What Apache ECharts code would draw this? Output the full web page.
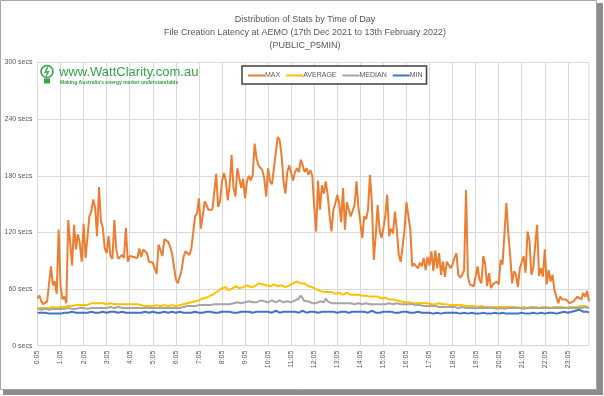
<!DOCTYPE html>
<html>
<head>
<meta charset="utf-8">
<script src="https://cdn.jsdelivr.net/npm/echarts@6/dist/echarts.min.js"></script>
<style>
html, body { margin: 0; padding: 0; background: #fff; }
#main { width: 604px; height: 396px; }
</style>
</head>
<body>
<div id="main"></div>
<script>
// 5 minute intervals, 0:05 .. 23:55 (288 points)
var times = []
for (var h = 0; h < 24; h++) {
  for (var m = 5; m < 60; m += 5) times.push(h + ':' + (m < 10 ? '0' + m : m))
  times.push((h + 1) + ':00')
}
times = times.slice(0, 288)

var seriesNames = ['MAX', 'AVERAGE', 'MEDIAN', 'MIN']

// secs, one row per hour
var maxSecs = [
  50, 53, 47, 44, 44, 47, 47, 84, 64, 68, 55, 123,
  63, 49, 52, 45, 133, 133, 85, 128, 102, 118, 109, 89,
  129, 93, 91, 137, 142, 155, 146, 116, 168, 132, 125, 103,
  98, 116, 95, 92, 133, 102, 92, 90, 96, 93, 125, 89,
  95, 93, 94, 95, 93, 103, 94, 102, 102, 98, 89, 88,
  88, 87, 76, 107, 105, 95, 113, 114, 110, 105, 98, 97,
  70, 66, 73, 80, 94, 100, 102, 96, 102, 103, 137, 140,
  156, 124, 138, 153, 151, 144, 143, 144, 144, 182, 147, 153,
  174, 183, 175, 154, 170, 202, 167, 158, 188, 190, 167, 177,
  156, 174, 180, 175, 181, 214, 198, 191, 191, 186, 177, 158,
  188, 174, 171, 172, 204, 221, 218, 202, 175, 161, 184, 191,
  190, 175, 184, 188, 184, 197, 191, 184, 188, 181, 186, 180,
  147, 121, 175, 144, 170, 161, 174, 160, 138, 121, 144, 151,
  160, 151, 131, 167, 123, 152, 144, 137, 135, 149, 174, 147,
  145, 114, 137, 134, 144, 181, 152, 91, 116, 149, 123, 114,
  124, 138, 160, 116, 124, 119, 142, 123, 96, 89, 105, 123,
  152, 150, 123, 84, 87, 87, 82, 88, 84, 93, 80, 94,
  85, 100, 79, 101, 82, 98, 75, 89, 73, 89, 87, 82,
  86, 93, 98, 75, 72, 75, 80, 165, 73, 65, 67, 63,
  65, 84, 70, 66, 95, 86, 63, 77, 61, 65, 65, 68,
  65, 91, 86, 119, 151, 119, 95, 66, 79, 75, 62, 82,
  84, 95, 77, 121, 112, 75, 82, 107, 128, 74, 82, 73,
  102, 65, 80, 68, 75, 59, 52, 45, 52, 49, 50, 49,
  47, 45, 46, 47, 49, 52, 52, 49, 56, 52, 58, 47
]

var avgSecs = [
  40, 40, 40, 41, 40, 40, 40, 40, 41, 40, 40, 40,
  41, 40, 41, 42, 42, 43, 42, 42, 43, 42, 43, 43,
  43, 44, 43, 44, 45, 44, 45, 44, 45, 44, 45, 45,
  44, 44, 45, 44, 44, 45, 44, 44, 44, 43, 44, 43,
  44, 44, 44, 45, 44, 44, 43, 42, 42, 43, 42, 42,
  42, 42, 43, 42, 42, 42, 43, 42, 42, 42, 43, 42,
  42, 42, 43, 43, 44, 44, 45, 45, 46, 46, 47, 47,
  48, 49, 50, 50, 51, 52, 53, 54, 55, 56, 58, 60,
  61, 63, 62, 59, 58, 60, 62, 63, 62, 61, 63, 62,
  63, 64, 63, 62, 64, 63, 65, 66, 67, 65, 64, 64,
  64, 63, 64, 65, 64, 63, 63, 64, 63, 62, 63, 64,
  65, 66, 67, 68, 67, 66, 65, 66, 64, 63, 62, 62,
  61, 60, 59, 58, 57, 57, 56, 57, 56, 57, 56, 55,
  55, 56, 55, 54, 55, 56, 55, 54, 55, 54, 53, 54,
  54, 53, 54, 53, 53, 52, 53, 52, 51, 52, 51, 50,
  50, 51, 50, 49, 50, 49, 48, 48, 47, 47, 46, 46,
  46, 46, 45, 45, 46, 45, 45, 45, 46, 45, 44, 45,
  45, 44, 45, 44, 44, 45, 44, 44, 43, 44, 43, 43,
  44, 43, 43, 43, 42, 43, 42, 42, 42, 42, 41, 42,
  42, 41, 41, 42, 41, 41, 41, 41, 42, 41, 41, 41,
  41, 41, 40, 41, 41, 41, 40, 41, 41, 41, 41, 40,
  41, 41, 41, 40, 41, 41, 41, 41, 41, 40, 41, 41,
  41, 41, 41, 40, 41, 41, 41, 41, 41, 41, 41, 40,
  41, 41, 41, 41, 42, 41, 41, 42, 41, 42, 41, 40
]

var medianSecs = [
  39, 39, 38, 39, 39, 39, 38, 39, 39, 39, 39, 38,
  39, 39, 39, 39, 40, 39, 39, 40, 39, 39, 40, 39,
  40, 40, 39, 40, 40, 41, 40, 40, 40, 41, 40, 40,
  40, 40, 41, 40, 40, 40, 41, 40, 40, 40, 40, 40,
  40, 40, 40, 41, 40, 40, 40, 40, 40, 40, 40, 40,
  40, 40, 40, 41, 40, 40, 40, 40, 40, 41, 40, 40,
  40, 40, 40, 41, 41, 41, 42, 42, 42, 42, 42, 43,
  43, 43, 43, 44, 43, 43, 43, 44, 44, 43, 44, 44,
  44, 45, 44, 45, 44, 46, 45, 45, 46, 44, 45, 46,
  46, 45, 47, 46, 46, 47, 46, 47, 48, 46, 47, 47,
  46, 47, 48, 47, 46, 47, 48, 47, 46, 47, 47, 46,
  46, 47, 48, 49, 50, 53, 50, 47, 46, 47, 46, 45,
  45, 45, 46, 47, 46, 46, 50, 47, 45, 45, 46, 45,
  45, 45, 46, 45, 45, 45, 44, 45, 45, 44, 45, 45,
  45, 44, 45, 45, 44, 44, 45, 44, 44, 44, 45, 44,
  44, 44, 44, 45, 44, 44, 44, 45, 44, 44, 44, 44,
  44, 44, 43, 44, 43, 43, 43, 43, 43, 42, 43, 42,
  42, 42, 42, 42, 42, 41, 42, 41, 41, 41, 41, 41,
  41, 41, 41, 40, 40, 41, 40, 40, 40, 40, 40, 40,
  40, 40, 39, 40, 40, 40, 39, 40, 40, 40, 40, 39,
  40, 40, 40, 39, 40, 40, 40, 40, 39, 40, 40, 40,
  40, 39, 40, 40, 40, 40, 39, 40, 40, 40, 39, 40,
  40, 40, 40, 40, 39, 40, 40, 40, 40, 40, 40, 40,
  40, 40, 41, 40, 40, 40, 41, 40, 40, 41, 40, 40
]

var minSecs = [
  35, 34, 35, 34, 35, 35, 34, 35, 34, 35, 34, 35,
  34, 35, 35, 34, 35, 35, 36, 35, 35, 34, 35, 35,
  35, 36, 35, 35, 36, 35, 35, 36, 35, 35, 36, 35,
  35, 35, 36, 35, 36, 35, 35, 35, 36, 35, 35, 36,
  35, 36, 35, 35, 35, 36, 35, 35, 36, 35, 35, 35,
  36, 35, 35, 36, 35, 35, 36, 35, 35, 35, 36, 35,
  35, 35, 36, 35, 35, 36, 35, 36, 35, 35, 36, 35,
  35, 36, 35, 35, 36, 35, 36, 35, 35, 36, 35, 36,
  36, 35, 36, 35, 36, 36, 35, 36, 35, 36, 36, 35,
  36, 35, 36, 37, 35, 36, 36, 35, 36, 37, 36, 35,
  36, 36, 35, 36, 37, 36, 35, 36, 36, 35, 36, 37,
  36, 35, 36, 36, 35, 36, 37, 36, 35, 36, 36, 35,
  36, 36, 35, 36, 36, 35, 36, 37, 36, 35, 36, 36,
  35, 36, 36, 35, 36, 36, 35, 36, 36, 35, 36, 36,
  36, 35, 36, 36, 35, 36, 37, 36, 35, 36, 35, 36,
  36, 35, 36, 35, 36, 36, 35, 36, 35, 36, 36, 37,
  36, 35, 35, 36, 35, 35, 36, 35, 35, 36, 35, 35,
  35, 35, 34, 35, 35, 35, 34, 35, 35, 34, 35, 35,
  35, 34, 35, 35, 34, 35, 35, 35, 34, 35, 35, 34,
  34, 35, 34, 34, 35, 34, 34, 35, 34, 34, 35, 34,
  34, 34, 35, 34, 34, 35, 34, 34, 34, 35, 34, 34,
  35, 34, 34, 35, 34, 34, 35, 34, 34, 35, 35, 34,
  34, 35, 35, 34, 35, 35, 34, 35, 35, 35, 36, 35,
  35, 35, 36, 36, 37, 37, 38, 37, 36, 38, 36, 35
]

var colors = ['#ED7D31', '#FFC000', '#A5A5A5', '#4472C4']
var seriesData = [maxSecs, avgSecs, medianSecs, minSecs]
var font = 'Liberation Sans'
var green = '#35a347'

var chart = echarts.init(document.getElementById('main'))
var option = {
  animation: false,
  backgroundColor: '#fff',
  color: colors,
  title: {
    text: 'Distribution of Stats by Time of Day\nFile Creation Latency at AEMO (17th Dec 2021 to 13th February 2022)\n(PUBLIC_P5MIN)',
    left: 300,
    textAlign: 'center',
    top: 8,
    textStyle: { fontFamily: font, fontSize: 9, fontWeight: 'normal', color: '#595959', lineHeight: 13 }
  },
  legend: {
    data: seriesNames,
    left: 242,
    top: 66,
    padding: [6, 4, 5, 6],
    itemGap: 6,
    itemWidth: 17,
    itemHeight: 2,
    icon: 'rect',
    borderColor: '#404040',
    borderWidth: 1.5,
    backgroundColor: '#fff',
    textStyle: { fontFamily: font, fontSize: 7, color: '#595959', padding: [0, 0, 0, -5] }
  },
  grid: {
    left: 37.5,
    right: 15,
    top: 62.5,
    bottom: 50.3,
    show: true,
    borderColor: '#d9d9d9',
    borderWidth: 1
  },
  xAxis: {
    type: 'category',
    data: times,
    boundaryGap: false,
    axisLine: { lineStyle: { color: '#d9d9d9' } },
    axisTick: { show: false },
    axisLabel: { interval: 11, rotate: 90, fontFamily: font, fontSize: 7, color: '#595959', margin: 5 },
    splitLine: { show: true, interval: 11, lineStyle: { color: '#d9d9d9' } }
  },
  yAxis: {
    type: 'value',
    min: 0,
    max: 300,
    interval: 60,
    axisLine: { show: false },
    axisTick: { show: false },
    axisLabel: { formatter: '{value} secs', fontFamily: font, fontSize: 7, color: '#595959', margin: 5 },
    splitLine: { lineStyle: { color: '#d9d9d9' } }
  },
  series: seriesNames.map(function(name, k) {
    return {
      name: name,
      type: 'line',
      data: seriesData[k],
      showSymbol: false,
      lineStyle: { width: 2 }
    }
  }),
  graphic: [
    // frame and drop shadow
    { type: 'rect', shape: { x: 3, y: 3, width: 600, height: 392 }, style: { fill: '#8c8c8c' }, z: -10, silent: true },
    { type: 'rect', shape: { x: 0.5, y: 0.5, width: 596, height: 389 }, style: { fill: '#fff', stroke: '#a6a6a6', lineWidth: 1 }, z: -9, silent: true },
    // logo
    {
      type: 'group',
      left: 38,
      top: 63,
      z: 50,
      children: [
        { type: 'rect', shape: { x: 0, y: 0, width: 166, height: 27 }, style: { fill: '#fff' } },
        { type: 'circle', shape: { cx: 9, cy: 8, r: 6 }, style: { fill: 'none', stroke: green, lineWidth: 1.6 } },
        { type: 'rect', shape: { x: 6, y: 15, width: 6, height: 5 }, style: { fill: green } },
        { type: 'polyline', shape: { points: [[10, 3], [7, 9], [10.5, 8], [8, 13]] }, style: { stroke: green, lineWidth: 1.3, fill: 'none' } },
        { type: 'text', z: 2, style: { x: 21, y: 2, text: 'www.WattClarity.com.au', fontFamily: font, fontSize: 13, fill: green } },
        { type: 'text', z: 2, style: { x: 22, y: 17, text: 'Making Australia\'s energy market understandable', fontFamily: font, fontSize: 5, fontWeight: 'bold', fill: green } }
      ]
    }
  ]
}
chart.setOption(option)
</script>
</body>
</html>
